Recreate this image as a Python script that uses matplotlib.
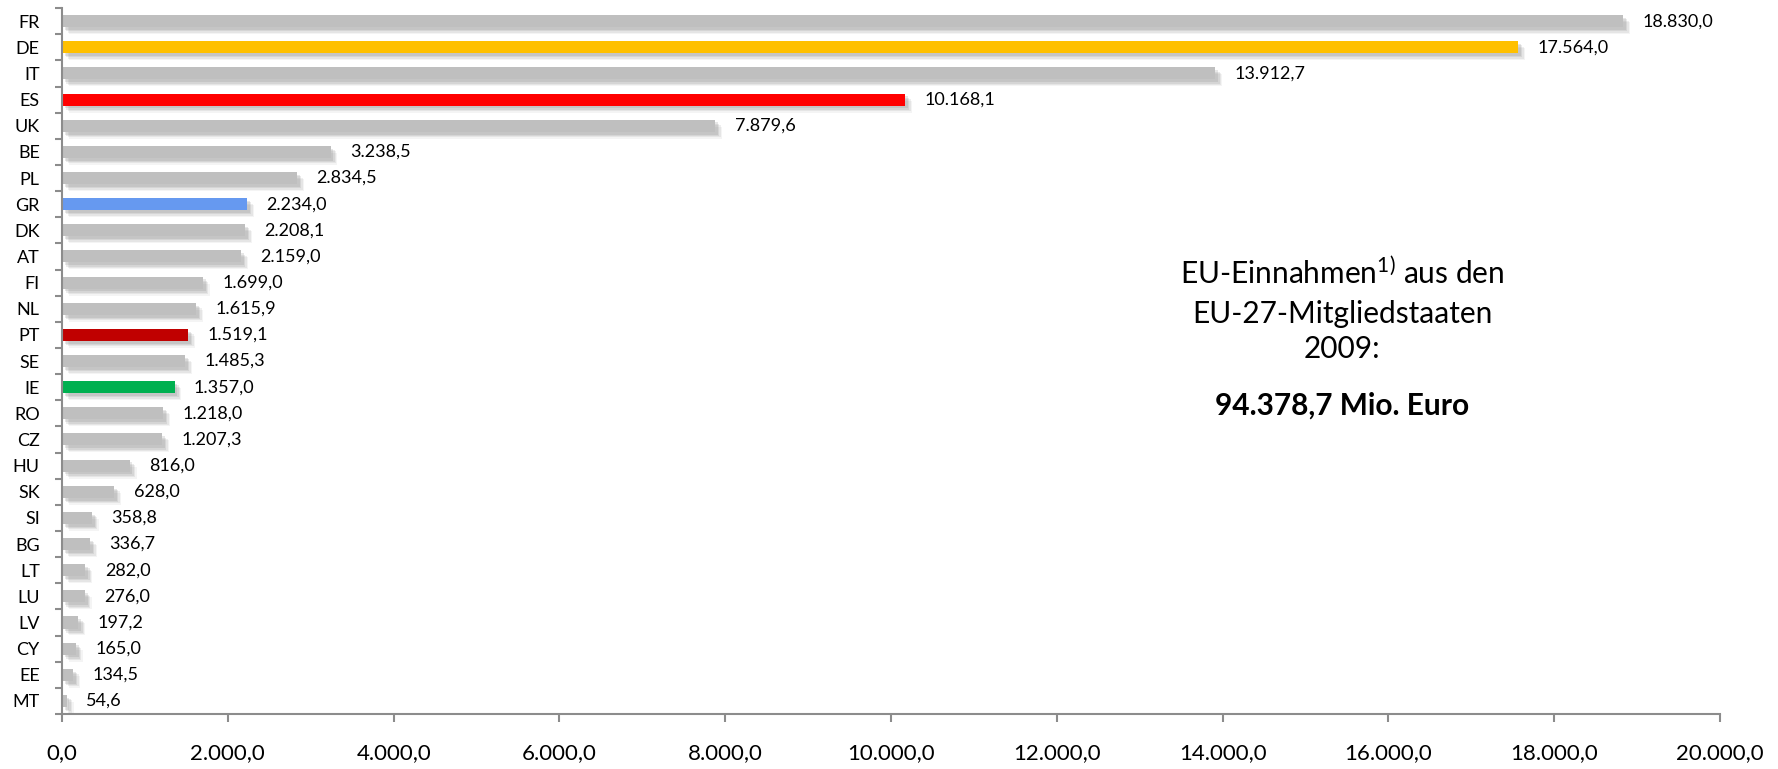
import matplotlib
matplotlib.use("Agg")
from matplotlib import pyplot as plt
from matplotlib import patheffects

plt.rcParams['font.family'] = ['Lato', 'DejaVu Sans']
plt.rcParams['mathtext.fontset'] = 'custom'
plt.rcParams['mathtext.rm'] = 'Lato'
plt.rcParams['mathtext.default'] = 'regular'

countries = ['FR', 'DE', 'IT', 'ES', 'UK', 'BE', 'PL', 'GR', 'DK', 'AT', 'FI', 'NL', 'PT', 'SE',
             'IE', 'RO', 'CZ', 'HU', 'SK', 'SI', 'BG', 'LT', 'LU', 'LV', 'CY', 'EE', 'MT']
revenues = [18830.0, 17564.0, 13912.7, 10168.1, 7879.6, 3238.5, 2834.5, 2234.0, 2208.1, 2159.0,
            1699.0, 1615.9, 1519.1, 1485.3, 1357.0, 1218.0, 1207.3, 816.0, 628.0, 358.8,
            336.7, 282.0, 276.0, 197.2, 165.0, 134.5, 54.6]
highlight = {'DE': '#FFC000', 'ES': '#FF0000', 'GR': '#6699F0', 'PT': '#C00000', 'IE': '#00B050'}
total = 94378.7
x_ticks = list(range(0, 20001, 2000))


def german(value):
    '''Format a number like 18.830,0'''
    return f"{value:,.1f}".replace(',', 'X').replace('.', ',').replace('X', '.')


fig = plt.figure(figsize=(17.78, 7.69), dpi=100)
ax = fig.add_axes([0.0349, 0.0715, 0.9325, 0.918])

colors = [highlight.get(c, '#BFBFBF') for c in countries]
positions = list(range(len(countries)))

# soft drop shadow under each bar
shadow = [patheffects.SimplePatchShadow(offset=(5, -5), shadow_rgbFace='#7f7f7f', alpha=0.08),
          patheffects.SimplePatchShadow(offset=(4, -4), shadow_rgbFace='#7f7f7f', alpha=0.12),
          patheffects.SimplePatchShadow(offset=(3, -3), shadow_rgbFace='#7f7f7f', alpha=0.15),
          patheffects.SimplePatchShadow(offset=(2, -2), shadow_rgbFace='#7f7f7f', alpha=0.18),
          patheffects.Normal()]
bars = ax.barh(positions, revenues, height=0.46, color=colors, edgecolor='none')
for bar in bars:
    bar.set_path_effects(shadow)

for pos, value in zip(positions, revenues):
    ax.annotate(german(value), xy=(value, pos), xytext=(14, 0), textcoords='offset points',
                va='center', ha='left', fontsize=13, color='black')

ax.set_xlim(0, 20000)
ax.set_ylim(len(countries) - 0.5, -0.5)

ax.set_xticks(x_ticks)
ax.set_xticklabels([german(t) for t in x_ticks], fontsize=16)
ax.tick_params(axis='x', direction='out', length=6, width=1.5, color='#8c8c8c', pad=15)

ax.set_yticks(positions)
ax.set_yticklabels(countries, fontsize=13)
ax.tick_params(axis='y', which='major', length=0, pad=16)
ax.set_yticks([p - 0.5 for p in positions] + [len(countries) - 0.5], minor=True)
ax.tick_params(axis='y', which='minor', direction='out', length=5, width=1.5, color='#8c8c8c')

for side in ['top', 'right']:
    ax.spines[side].set_visible(False)
for side in ['left', 'bottom']:
    ax.spines[side].set_color('#8c8c8c')
    ax.spines[side].set_linewidth(1.5)

tx = 0.755
fig.text(tx, 0.645, 'EU-Einnahmen$^{1)}$ aus den', ha='center', va='center', fontsize=21.5)
fig.text(tx, 0.592, 'EU-27-Mitgliedstaaten', ha='center', va='center', fontsize=21.5)
fig.text(tx, 0.546, '2009:', ha='center', va='center', fontsize=21.5)
fig.text(tx, 0.472, german(total) + ' Mio. Euro', ha='center', va='center',
         fontsize=21.5, fontweight='bold')

fig.savefig('out.png', dpi=100)
